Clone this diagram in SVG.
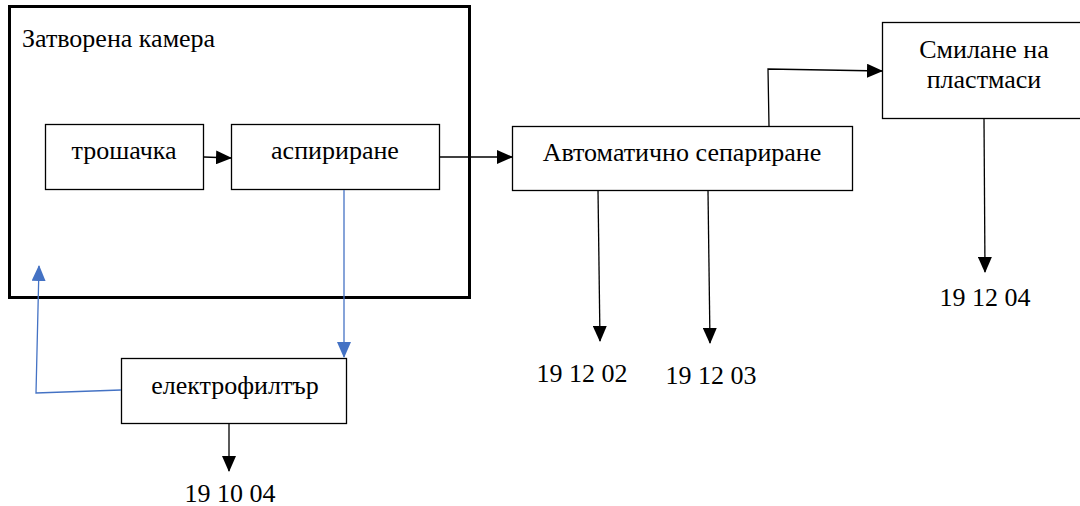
<svg xmlns="http://www.w3.org/2000/svg" width="1080" height="506" viewBox="0 0 1080 506">
<defs>
<style>
.box{fill:#fff;stroke:#000;stroke-width:1.3}
.t{font-size:26px;fill:#000}
.m{text-anchor:middle}
.k{fill:none;stroke:#000;stroke-width:1.3}
.b{fill:none;stroke:#4472c4;stroke-width:1.3}
</style>
<marker id="ak" markerWidth="16" markerHeight="14" refX="15" refY="7" orient="auto" markerUnits="userSpaceOnUse"><path d="M0,0 L16,7 L0,14 Z" fill="#000"/></marker>
<marker id="ab" markerWidth="16" markerHeight="14" refX="15" refY="7" orient="auto" markerUnits="userSpaceOnUse"><path d="M0,0 L16,7 L0,14 Z" fill="#4472c4"/></marker>
</defs>
<g font-family="Liberation Serif, Times New Roman, serif">
<g id="chamber">
<rect x="9.5" y="6.5" width="460" height="291" fill="none" stroke="#000" stroke-width="3"/>
<text class="t" x="22" y="47">Затворена камера</text>
</g>
<g id="crusher">
<rect class="box" x="45.5" y="124.5" width="158" height="65"/>
<text class="t m" x="124" y="159">трошачка</text>
</g>
<g id="aspiration">
<rect class="box" x="231.5" y="124.5" width="208" height="65"/>
<text class="t m" x="335" y="159">аспириране</text>
</g>
<g id="separation">
<rect class="box" x="512.5" y="126.5" width="340" height="64"/>
<text class="t m" x="682" y="161">Автоматично сепариране</text>
</g>
<g id="grinding">
<rect class="box" x="882.5" y="22.5" width="200" height="96"/>
<text class="t m" x="984" y="58">Смилане на</text>
<text class="t m" x="984" y="88">пластмаси</text>
</g>
<g id="filter">
<rect class="box" x="121.5" y="358.5" width="225" height="65"/>
<text class="t m" x="235" y="394">електрофилтър</text>
</g>
<g id="labels">
<text class="t m" x="582" y="382">19 12 02</text>
<text class="t m" x="711" y="384">19 12 03</text>
<text class="t m" x="985" y="306">19 12 04</text>
<text class="t m" x="230" y="502">19 10 04</text>
</g>
</g>
<g id="connectors">
<path class="k" d="M204,157 L231,158" marker-end="url(#ak)"/>
<path class="k" d="M440,157 L512,157" marker-end="url(#ak)"/>
<path class="k" d="M769,126 L768,69 L882,71" marker-end="url(#ak)"/>
<path class="k" d="M984,119 L985,272" marker-end="url(#ak)"/>
<path class="k" d="M598,190 L600,341" marker-end="url(#ak)"/>
<path class="k" d="M708,191 L710,343" marker-end="url(#ak)"/>
<path class="k" d="M229,424 L229,471" marker-end="url(#ak)"/>
<path class="b" d="M344,190 L344,357" marker-end="url(#ab)"/>
<path class="b" d="M121,390 L36,393 L39,266" marker-end="url(#ab)"/>
</g>
</svg>
